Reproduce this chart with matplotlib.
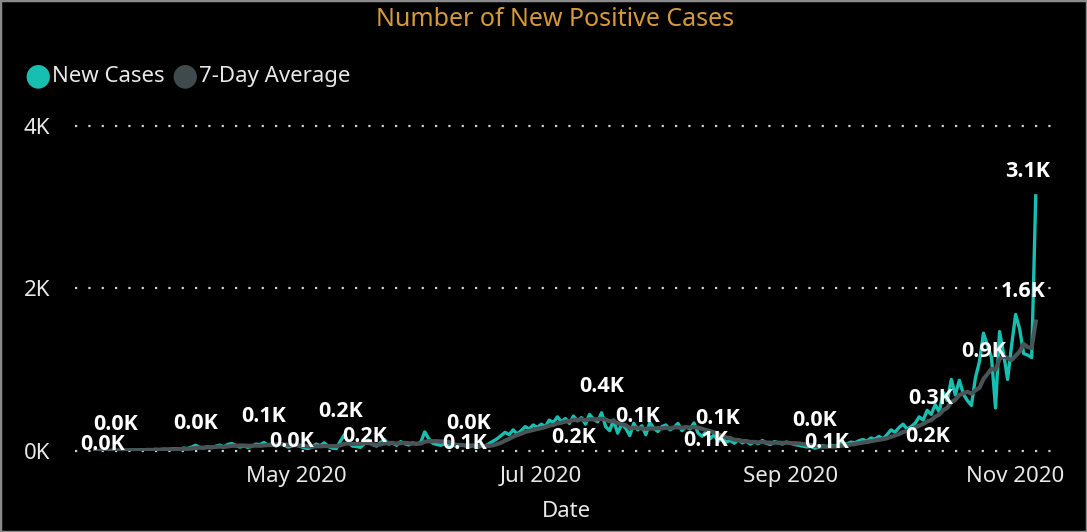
import numpy as np
import pandas as pd
import matplotlib
matplotlib.use("Agg")
import matplotlib.pyplot as plt
from matplotlib.transforms import ScaledTranslation

plt.rcParams['font.family'] = ['Noto Sans', 'DejaVu Sans']

# daily new cases (12 Mar - 1 Nov 2020)
mar = [0, 2, 4, 3, 6, 5, 8, 10, 7, 12, 11, 15, 10, 18, 14, 20, 16, 22, 19, 24]
apr = [28, 22, 35, 30, 48, 70, 45, 38, 52, 40, 58, 72, 50, 80, 92, 68, 48, 62, 45, 58,
       85, 78, 105, 70, 88, 60, 92, 72, 48, 62]
may = [75, 58, 40, 30, 48, 85, 65, 100, 55, 35, 30, 120, 200, 110, 60, 55, 45, 90, 135, 80,
       60, 105, 140, 85, 95, 70, 115, 90, 75, 100, 85]
jun = [105, 235, 150, 95, 80, 70, 90, 60, 75, 55, 80, 65, 50, 70, 45, 60, 55, 90, 120, 150,
       190, 230, 200, 260, 210, 250, 300, 270, 320, 290]
jul = [330, 300, 380, 350, 420, 360, 400, 340, 430, 370, 410, 330, 450, 390, 360, 470, 300, 250, 380, 220,
       330, 280, 190, 340, 260, 310, 200, 350, 280, 240, 300]
aug = [320, 260, 290, 340, 250, 300, 270, 345, 220, 180, 240, 150, 200, 120, 160, 110, 130, 95, 140, 100,
       120, 85, 110, 90, 130, 95, 80, 115, 100, 85, 110]
sep = [95, 80, 70, 60, 50, 55, 35, 45, 65, 55, 70, 60, 80, 95, 85, 110, 100, 125, 140, 120,
       160, 145, 180, 150, 200, 260, 230, 290, 330, 270]
oct_ = [300, 340, 420, 380, 500, 450, 570, 480, 720, 620, 880, 690, 870, 700, 620, 560, 900, 1100, 1450, 1300,
        1150, 530, 1470, 1200, 880, 1300, 1680, 1500, 1200, 1180, 1150]
nov = [3140]

new_cases = mar + apr + may + jun + jul + aug + sep + oct_ + nov
dates = pd.date_range("2020-03-12", periods=len(new_cases), freq="D")
cases = pd.Series(new_cases, index=dates, dtype=float)
avg7 = cases.rolling(7, min_periods=1).mean()

# data labels shown by the report: (date, anchor value, text)
label_dates = ["2020-03-17", "2020-03-14", "2020-04-06", "2020-04-23", "2020-04-30",
               "2020-05-12", "2020-05-18", "2020-06-13", "2020-06-12", "2020-07-16",
               "2020-07-25", "2020-07-09", "2020-08-14", "2020-08-11", "2020-09-07",
               "2020-09-10", "2020-10-06", "2020-10-05", "2020-10-19", "2020-10-29",
               "2020-10-30"]
label_vals = [320, 85, 340, 430, 120, 490, 180, 340, 90, 790, 430, 160, 395, 125, 370,
              100, 650, 175, 1220, 1960, 3440]
label_texts = ["0.0K", "0.0K", "0.0K", "0.1K", "0.0K", "0.2K", "0.2K", "0.0K", "0.1K", "0.4K",
               "0.1K", "0.2K", "0.1K", "0.1K", "0.0K", "0.1K", "0.3K", "0.2K", "0.9K", "1.6K",
               "3.1K"]

y_ticks = [0, 2000, 4000]
y_ticklabels = ["0K", "2K", "4K"]
x_ticks = ["2020-05-01", "2020-07-01", "2020-09-01", "2020-11-01"]
x_ticklabels = ["May 2020", "Jul 2020", "Sep 2020", "Nov 2020"]

teal = "#17bfb0"
avg_col = "#4a5356"
txt_col = "#e8e8e8"

fig = plt.figure(figsize=(10.87, 5.32), dpi=100, facecolor="black")
ax = fig.add_axes([0.069, 0.1523, 0.9034, 0.6109], facecolor="black")

ax.plot(cases.index, cases.values, color=teal, lw=2.4, zorder=3)
ax.plot(avg7.index, avg7.values, color=avg_col, lw=3, zorder=4)

for d, v, t in zip(label_dates, label_vals, label_texts):
    ax.text(pd.Timestamp(d), v, t, color="white", fontsize=15.5, fontweight="bold",
            family=["Open Sans", "DejaVu Sans"],
            ha="center", va="center", zorder=6, clip_on=False)

ax.set_ylim(0, 4000)
ax.set_xlim(pd.Timestamp("2020-03-07"), pd.Timestamp("2020-11-06 07:00"))
ax.set_yticks(y_ticks)
ax.set_yticklabels(y_ticklabels)
ax.set_xticks([pd.Timestamp(d) for d in x_ticks])
ax.set_xticklabels(x_ticklabels)
for y in y_ticks:
    ax.axhline(y, color="#d0d0d0", lw=1.6, ls=(0, (1, 5)), zorder=1, clip_on=False)

ax.tick_params(axis="both", length=0, colors=txt_col, labelsize=16)
ax.tick_params(axis="y", pad=18)
ax.tick_params(axis="x", pad=11)
for s in ax.spines.values():
    s.set_visible(False)

# last month label is pulled in so it stays inside the visual
lbl = ax.get_xticklabels()[-1]
lbl.set_transform(lbl.get_transform() + ScaledTranslation(-0.21, 0, fig.dpi_scale_trans))

ax.set_xlabel("Date", color=txt_col, fontsize=16, labelpad=10)

fig.text(0.511, 0.963, "Number of New Positive Cases", color="#d49a3a", fontsize=18,
         ha="center", va="center")

# legend
lx = [0.035, 0.170]
ltxt = ["New Cases", "7-Day Average"]
lcol = [teal, "#3f4a4c"]
for x0, t, c in zip(lx, ltxt, lcol):
    fig.text(x0, 0.857, "\u25cf", color=c, fontsize=22, ha="center", va="center",
             family="DejaVu Sans")
    fig.text(x0 + 0.013, 0.857, t, color=txt_col, fontsize=16, ha="left", va="center")

border = plt.Rectangle((0, 0), 1, 1, transform=fig.transFigure, fill=False,
                       edgecolor="#8a8a8a", lw=2.5)
fig.patches.append(border)

fig.savefig("out.png", dpi=100, facecolor="black")
